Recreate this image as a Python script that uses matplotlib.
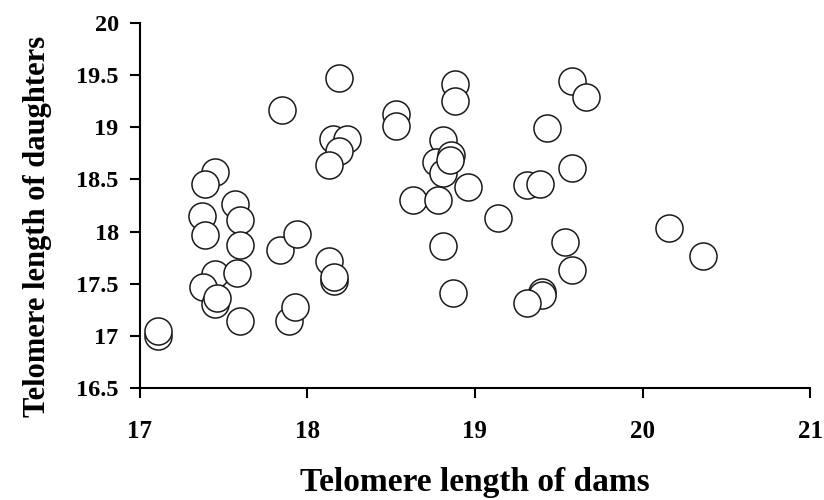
import matplotlib
matplotlib.use("Agg")
import matplotlib.pyplot as plt

# telomere length of dams (x) and daughters (y)
dams = [17.11, 17.11, 17.45, 17.39, 17.37, 17.39, 17.57, 17.60, 17.60,
        17.45, 17.58, 17.38, 17.45, 17.46, 17.60, 17.85, 17.84, 17.94,
        17.89, 17.93, 18.19, 18.155, 18.24, 18.19, 18.13, 18.13, 18.16,
        18.16, 18.53, 18.53, 18.88, 18.88, 18.81, 18.77, 18.86, 18.81,
        18.85, 18.96, 18.63, 18.78, 18.81, 18.87, 19.14, 19.31, 19.39,
        19.58, 19.66, 19.43, 19.58, 19.54, 19.58, 19.40, 19.40, 19.31,
        20.16, 20.36]
daughters = [17.00, 17.05, 18.57, 18.46, 18.15, 17.97, 18.26, 18.11, 17.87,
             17.59, 17.60, 17.47, 17.31, 17.36, 17.14, 19.16, 17.82, 17.98,
             17.14, 17.28, 19.47, 18.89, 18.89, 18.77, 18.64, 17.72, 17.53,
             17.57, 19.13, 19.01, 19.41, 19.25, 18.88, 18.67, 18.73, 18.56,
             18.69, 18.43, 18.30, 18.30, 17.86, 17.41, 18.13, 18.45, 18.46,
             19.44, 19.29, 18.99, 18.61, 17.90, 17.63, 17.42, 17.39, 17.32,
             18.03, 17.77]

xticks = [17, 18, 19, 20, 21]
yticks = [16.5, 17, 17.5, 18, 18.5, 19, 19.5, 20]
ytick_labels = ["16.5", "17", "17.5", "18", "18.5", "19", "19.5", "20"]

plt.rcParams['font.family'] = ['Liberation Serif', 'DejaVu Serif']

fig = plt.figure(figsize=(8.24, 5), dpi=100)
ax = fig.add_axes([0.1693, 0.2234, 0.814, 0.7312])

ax.scatter(dams, daughters, s=380, facecolor='white', edgecolor='#1a1a1a',
           linewidth=1.1, zorder=3, clip_on=False)

ax.set_xlim(17, 21)
ax.set_ylim(16.5, 20)
ax.set_xticks(xticks)
ax.set_xticklabels([str(t) for t in xticks])
ax.set_yticks(yticks)
ax.set_yticklabels(ytick_labels)

for side in ['top', 'right']:
    ax.spines[side].set_visible(False)
for side in ['left', 'bottom']:
    ax.spines[side].set_linewidth(1.5)

ax.tick_params(direction='out', length=7, width=1.5)
ax.tick_params(axis='y', labelsize=17.5, pad=8)
ax.tick_params(axis='x', labelsize=18, pad=16)
for lab in ax.get_xticklabels() + ax.get_yticklabels():
    lab.set_fontweight('bold')

ax.set_xlabel("Telomere length of dams", fontsize=24, fontweight='bold')
ax.xaxis.set_label_coords(0.5, -0.281)
ax.xaxis.label.set_va('baseline')

ax.set_ylabel("Telomere length of daughters", fontsize=22, fontweight='bold')
ax.yaxis.set_label_coords(-0.152, 0.444)
ax.yaxis.label.set_va('center')

fig.savefig("out.png", dpi=100)
